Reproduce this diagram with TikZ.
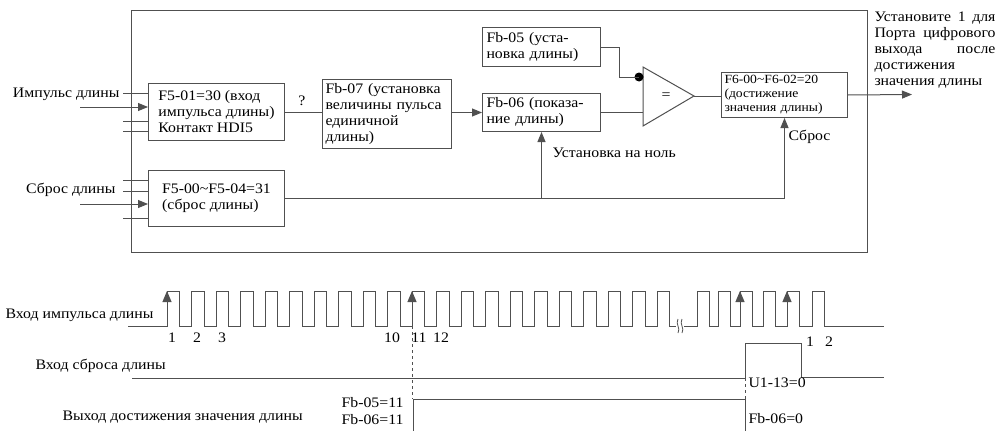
\documentclass[tikz,border=0pt]{standalone}
\usepackage{fontspec}
\setmainfont{Liberation Serif}[FakeStretch=1.09]
\usetikzlibrary{arrows.meta, calc}
\definecolor{cline}{HTML}{505050}
\newcommand{\txtn}{\fontsize{14.5}{16}\selectfont}
\newcommand{\txts}{\fontsize{12.5}{14}\selectfont}
\newcommand{\fullline}[1]{\makebox[121pt][s]{#1}}
\tikzset{
  every picture/.style={line width=1pt},
  blk/.style={draw=cline, anchor=north west, align=left, inner ysep=0pt, font=\txtn},
  lbl/.style={inner sep=0pt, font=\txtn},
  arr/.style={draw=cline, -{Triangle[length=10pt,width=8pt]}},
  edgearr/.style={draw=cline, -{Triangle[length=11pt,width=9pt]}},
}

\begin{document}
\begin{tikzpicture}[x=1pt, y=-1pt]
  \useasboundingbox (0,0) rectangle (997,431);
  % frame of the length function
  \draw[cline] (131,10) rectangle (867,252);
  % blocks
  \node[blk, minimum width=136, minimum height=57] (pulsein) at (148,83) {F5-01=30 (вход\\ импульса длины)\\ Контакт HDI5};
  \node[blk, minimum width=136, minimum height=56] (rstin) at (148,170) {F5-00\textasciitilde F5-04=31\\ (сброс длины)};
  \node[blk, minimum width=129, minimum height=69, text width=123, inner xsep=3pt] (unitlen) at (322,79) {Fb-07 (установка\\ \makebox[\hsize][s]{величины пульса}\\ единичной\\ длины)};
  \node[blk, minimum width=118, minimum height=39, text width=110, inner xsep=4pt] (setlen) at (482,27) {Fb-05 (уста-\\ новка длины)};
  \node[blk, minimum width=118, minimum height=38, text width=110, inner xsep=4pt] (actlen) at (482,93) {Fb-06 (показа-\\ ние длины)};
  \node[blk, font=\txts, minimum width=126, minimum height=45, text width=120, inner xsep=3pt] (reach) at (721,72) {F6-00\textasciitilde F6-02=20\\ (достижение\\ значения длины)};
  % comparator
  \coordinate (cmptop) at (643,67);
  \coordinate (cmpbot) at (643,126);
  \coordinate (cmpout) at (694,96);
  \coordinate (cmpdot) at (639,77);
  \draw[cline] (cmptop) -- (cmpout) -- (cmpbot) -- cycle;
  \node[lbl] (cmpeq) at (666,96) {=};
  \fill[black] (cmpdot) circle (4.5);
  % inputs
  \node[lbl, anchor=east] (pulselbl) at (120,94) {Импульс длины};
  \foreach \y in {93,121,131} \draw[cline] (123,\y) -- (pulsein.west |- 0,\y);
  \draw[arr] (80,107) -- (pulsein.west |- 0,107);
  \node[lbl, anchor=east] (rstlbl) at (116,190) {Сброс длины};
  \foreach \y in {180,191,218} \draw[cline] (123,\y) -- (rstin.west |- 0,\y);
  \draw[arr] (80,204) -- (rstin.west |- 0,204);
  % connections
  \draw[cline] (pulsein.east) -- (pulsein.east -| unitlen.west);
  \node[lbl] (qmark) at (302,101) {?};
  \draw[arr] (unitlen.east |- actlen.west) -- (actlen.west);
  \draw[cline] (setlen.east) -- ++(18,0) |- (cmpdot);
  \draw[cline] (actlen.east) -- (actlen.east -| cmptop);
  \draw[cline] (cmpout) -- (cmpout -| reach.west);
  \coordinate (outtip) at (912,94.5);
  \draw[arr] (reach.east) -- (outtip);
  \draw[arr] (rstin.east) -| (reach.south);
  \draw[arr] (rstin.east -| actlen.south) -- (actlen.south);
  \node[lbl, anchor=west] (zerolbl) at (552,153) {Установка на ноль};
  \node[lbl, anchor=west] (resetlbl) at (788,137) {Сброс};
  \node[lbl, anchor=north west, align=left] (outlbl) at (874,11) {\fullline{Установите 1 для}\\ \fullline{Порта цифрового}\\ \fullline{выхода\hfill после}\\ достижения\\ значения длины};
  % timing: length pulse input
  \node[lbl, anchor=west] (tpulse) at (5,315) {Вход импульса длины};
  \draw[cline] (128,326) \foreach \k in {0,...,20} { -- ({167+24.5*\k},326) -- ++(0,-35) -- ++(12.5,0) -- ++(0,35) } -- (676,326);
  \draw[cline, line width=0.8pt] (678,319) .. controls (675,324) and (681,328) .. (678,333);
  \draw[cline, line width=0.8pt] (682,319) .. controls (679,324) and (685,328) .. (682,333);
  \draw[cline] (684,326) \foreach \x in {697,718,740,763,787,812} { -- (\x,326) -- ++(0,-35) -- ++(12,0) -- ++(0,35) } -- (884,326);
  \foreach \x in {167,412,740,787} \draw[edgearr] (\x,318) -- (\x,291);
  \foreach \n/\x in {1/172,2/197,3/222,10/392,11/419,12/441} \node[lbl] (cnt\n) at (\x,338) {\n};
  \node[lbl] (cntb1) at (810,342) {1};
  \node[lbl] (cntb2) at (829,342) {2};
  % timing: length reset input
  \node[lbl, anchor=west] (treset) at (35,366) {Вход сброса длины};
  \draw[cline] (132,378) -- (745,378) -- (745,343) -- (801,343) -- (801,377) -- (884,377);
  \draw[cline, dashed] (745,378) -- (745,399);
  \node[lbl, anchor=west] (u113) at (748,383) {U1-13=0};
  % timing: length reached output
  \node[lbl, anchor=west] (treach) at (62,417) {Выход достижения значения длины};
  \draw[cline, dashed] (412,326) -- (412,399);
  \draw[cline] (413,431) -- (413,399) -- (745,399) -- (745,431);
  \node[lbl, anchor=east] (fb05v) at (404,403) {Fb-05=11};
  \node[lbl, anchor=east] (fb06v) at (404,420) {Fb-06=11};
  \node[lbl, anchor=west] (fb06z) at (748,419) {Fb-06=0};
\end{tikzpicture}
\end{document}
